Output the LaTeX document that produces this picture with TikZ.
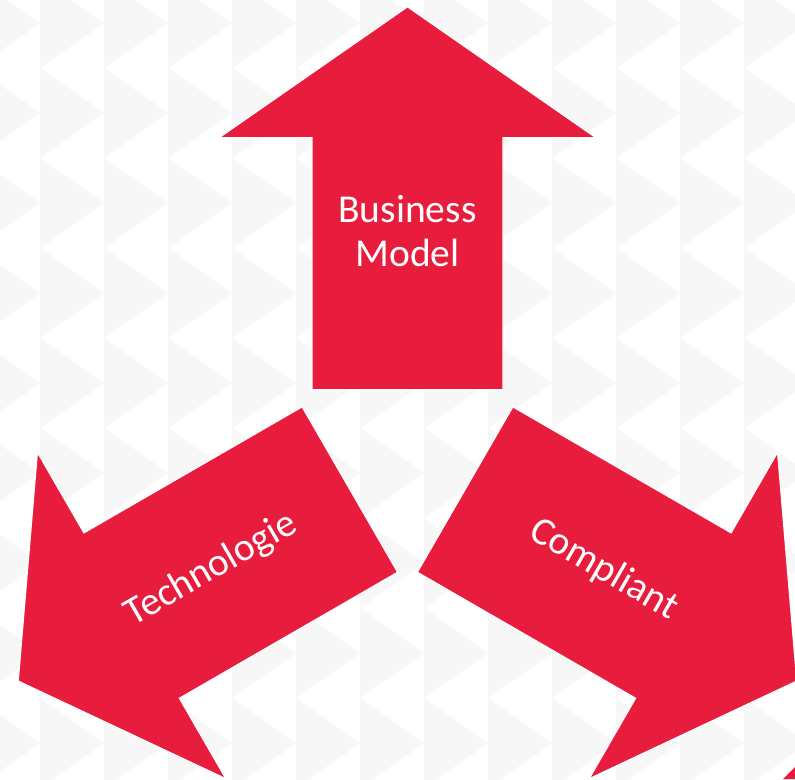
\documentclass[tikz,border=0pt]{standalone}
\usepackage{fontspec}
\setmainfont{Carlito}
\definecolor{arrowred}{RGB}{232,28,61}
\definecolor{bggray}{RGB}{247,247,247}
\tikzset{
  bigarrow/.style={fill=arrowred, draw=white, line width=1.2pt, line join=miter},
  bgtri/.style={fill=bggray},
  arrowtext/.style={text=white, font=\fontsize{39.5}{44}\selectfont, inner sep=0pt, align=center}
}
\begin{document}
\begin{tikzpicture}[x=1pt,y=1pt]
\useasboundingbox (0,0) rectangle (795,779);
\fill[white] (0,0) rectangle (795,779);
\begin{scope}
\clip (0,0) rectangle (795,779);
% background pattern of right-pointing triangles
\foreach \k in {-1,...,12}{
  \foreach \j in {-1,...,9}{
    \pgfmathsetmacro{\xa}{40+64*\k}
    \pgfmathsetmacro{\xb}{104+64*\k}
    \pgfmathsetmacro{\ya}{779-23-90*\j}
    \fill[bgtri] (\xa,\ya+45) -- (\xb,\ya) -- (\xa,\ya-45) -- cycle;
  }
}
\coordinate (c) at (407.5,322.7);
% Business Model arrow (up)
\begin{scope}[shift={(c)}]
  \draw[bigarrow] (-95.5,66.5) -- (95.5,66.5) -- (95.5,318.5) -- (188.5,318.5) -- (0,449.5) -- (-188.5,318.5) -- (-95.5,318.5) -- cycle;
  \node[arrowtext] (bm) at (0,225) {Business\\Model};
\end{scope}
% Technologie arrow (down-left)
\begin{scope}[shift={(c)}, rotate=120]
  \draw[bigarrow] (-95.5,66.5) -- (95.5,66.5) -- (95.5,318.5) -- (188.5,318.5) -- (0,449.5) -- (-188.5,318.5) -- (-95.5,318.5) -- cycle;
  \node[arrowtext, rotate=-90, transform shape] (tech) at (0,226.5) {Technologie};
\end{scope}
% Compliant arrow (down-right)
\begin{scope}[shift={(c)}, rotate=-120]
  \draw[bigarrow] (-95.5,66.5) -- (95.5,66.5) -- (95.5,318.5) -- (188.5,318.5) -- (0,449.5) -- (-188.5,318.5) -- (-95.5,318.5) -- cycle;
  \node[arrowtext, rotate=90, transform shape] (comp) at (0,226.5) {Compliant};
\end{scope}
% small red fragment at bottom right corner
\fill[arrowred] (783,0) -- (795,12) -- (795,0) -- cycle;
\end{scope}
\end{tikzpicture}
\end{document}
